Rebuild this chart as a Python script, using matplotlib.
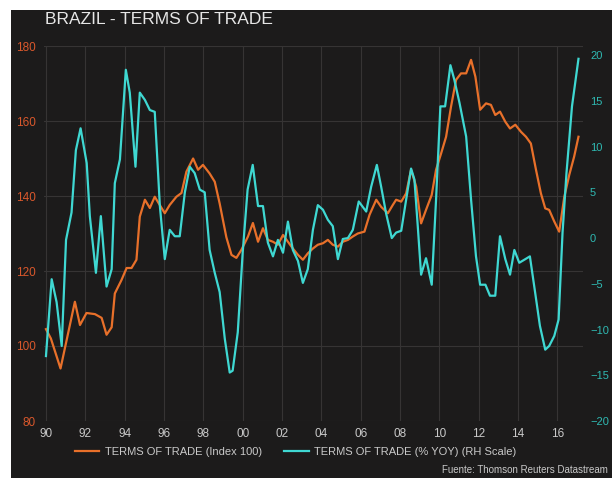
import matplotlib
matplotlib.use("Agg")
import matplotlib.pyplot as plt
from matplotlib.lines import Line2D
from matplotlib.patches import Rectangle

plt.rcParams['font.family'] = ['Liberation Sans', 'DejaVu Sans']

# Terms of trade index (Index 100), decimal years
tot_years = [1990.00, 1990.25, 1990.74, 1991.47, 1991.73, 1992.06, 1992.49, 1992.83,
             1993.08, 1993.34, 1993.50, 1993.84, 1994.10, 1994.35, 1994.60, 1994.77,
             1995.03, 1995.28, 1995.53, 1996.04, 1996.29, 1996.63, 1996.89, 1997.14,
             1997.48, 1997.73, 1997.98, 1998.32, 1998.58, 1998.83, 1999.17, 1999.43,
             1999.68, 1999.93, 2000.27, 2000.52, 2000.78, 2001.03, 2001.28, 2001.54,
             2001.79, 2002.05, 2002.30, 2002.55, 2002.81, 2003.06, 2003.31, 2003.57,
             2003.82, 2004.08, 2004.33, 2004.58, 2004.84, 2005.09, 2005.35, 2005.60,
             2005.85, 2006.19, 2006.45, 2006.79, 2007.04, 2007.38, 2007.63, 2007.80,
             2008.06, 2008.31, 2008.56, 2008.82, 2009.07, 2009.32, 2009.61, 2009.83,
             2010.09, 2010.34, 2010.59, 2010.85, 2011.10, 2011.36, 2011.61, 2011.83,
             2012.07, 2012.37, 2012.62, 2012.84, 2013.08, 2013.35, 2013.59, 2013.86,
             2014.15, 2014.40, 2014.65, 2014.91, 2015.16, 2015.38, 2015.58, 2015.84,
             2016.09, 2016.35, 2016.60, 2016.85, 2017.07]
tot_index = [104.5, 102.0, 94.0, 111.8, 105.6, 108.8, 108.5, 107.5,
             103.0, 105.0, 114.0, 117.6, 120.8, 120.8, 123.0, 134.5,
             139.0, 136.8, 139.8, 135.4, 137.6, 139.8, 140.8, 146.5,
             150.0, 147.0, 148.3, 146.0, 143.8, 138.0, 129.0, 124.3,
             123.5, 125.6, 129.2, 132.8, 127.8, 131.4, 128.3, 127.8,
             127.0, 129.6, 127.8, 126.0, 124.3, 123.0, 124.7, 126.0,
             127.0, 127.4, 128.3, 127.0, 126.5, 127.8, 128.3, 129.2,
             130.0, 130.5, 135.0, 139.0, 137.1, 135.4, 137.6, 139.0,
             138.5, 140.7, 147.0, 142.5, 132.7, 136.3, 140.3, 147.0,
             151.4, 155.8, 163.8, 171.0, 172.7, 172.7, 176.3, 171.8,
             163.0, 164.7, 164.3, 161.6, 162.5, 159.8, 158.0, 159.0,
             157.1, 155.8, 154.0, 147.0, 140.7, 136.7, 136.3, 133.2,
             130.5, 139.8, 145.6, 150.5, 155.8]

# Terms of trade, % year on year (right-hand scale)
yoy_years = [1990.00, 1990.29, 1990.54, 1990.80, 1991.02, 1991.30, 1991.52, 1991.76,
             1992.07, 1992.23, 1992.54, 1992.79, 1993.08, 1993.34, 1993.50, 1993.76,
             1994.06, 1994.26, 1994.55, 1994.77, 1995.03, 1995.28, 1995.53, 1995.79,
             1996.04, 1996.29, 1996.55, 1996.80, 1997.06, 1997.31, 1997.56, 1997.82,
             1998.07, 1998.32, 1998.58, 1998.83, 1999.09, 1999.34, 1999.49, 1999.75,
             2000.00, 2000.25, 2000.51, 2000.78, 2001.03, 2001.28, 2001.54, 2001.79,
             2002.05, 2002.30, 2002.55, 2002.81, 2003.06, 2003.31, 2003.57, 2003.82,
             2004.08, 2004.33, 2004.58, 2004.84, 2005.09, 2005.35, 2005.60, 2005.90,
             2006.28, 2006.53, 2006.82, 2007.04, 2007.29, 2007.58, 2007.80, 2008.06,
             2008.31, 2008.56, 2008.73, 2008.90, 2009.07, 2009.32, 2009.61, 2009.83,
             2010.05, 2010.29, 2010.56, 2010.76, 2011.02, 2011.36, 2011.61, 2011.86,
             2012.07, 2012.34, 2012.57, 2012.84, 2013.08, 2013.35, 2013.59, 2013.81,
             2014.06, 2014.37, 2014.60, 2014.87, 2015.11, 2015.38, 2015.58, 2015.84,
             2016.06, 2016.26, 2016.46, 2016.74, 2017.07]
yoy_pct = [-12.9, -4.5, -7.0, -11.8, -0.2, 2.8, 9.6, 12.0,
           8.2, 2.4, -3.8, 2.4, -5.3, -3.4, 6.0, 8.6,
           18.4, 15.9, 7.8, 15.9, 15.1, 14.0, 13.8, 3.5,
           -2.3, 0.9, 0.2, 0.2, 5.0, 7.8, 7.1, 5.3,
           5.0, -1.3, -3.8, -5.9, -11.0, -14.7, -14.5, -10.3,
           -1.6, 5.3, 8.0, 3.5, 3.5, -0.5, -2.0, -0.2,
           -1.6, 1.8, -1.3, -2.5, -4.9, -3.4, 0.9, 3.6,
           3.1, 2.0, 1.3, -2.3, -0.1, 0.0, 0.9, 4.0,
           2.9, 5.6, 8.0, 5.6, 2.7, 0.0, 0.6, 0.8,
           4.2, 7.6, 6.4, 1.3, -4.0, -2.2, -5.1, 4.2,
           14.4, 14.4, 18.9, 17.3, 14.8, 11.1, 4.2, -2.0,
           -5.1, -5.1, -6.3, -6.3, 0.2, -2.3, -4.0, -1.3,
           -2.7, -2.3, -2.0, -6.0, -9.6, -12.2, -11.8, -10.7,
           -8.9, 0.6, 7.1, 14.4, 19.6]

x_ticks = list(range(1990, 2018, 2))
x_labels = ["90", "92", "94", "96", "98", "00", "02", "04", "06", "08", "10", "12", "14", "16"]
left_ticks = [80, 100, 120, 140, 160, 180]
right_ticks = [-20, -15, -10, -5, 0, 5, 10, 15, 20]

BG = "#1c1b1b"
ORANGE = "#e8702a"
CYAN = "#3fd8d2"
LEFT_TXT = "#d9582c"
RIGHT_TXT = "#2fb9b2"
GRID = "#363434"
TXT = "#c9c9c9"

fig = plt.figure(figsize=(6.16, 4.78), dpi=100)
fig.patch.set_facecolor("white")
panel = Rectangle((11 / 616, 0), 601 / 616, 1 - 10 / 478,
                  transform=fig.transFigure, facecolor=BG,
                  edgecolor="none", zorder=-10)
fig.add_artist(panel)

ax = fig.add_axes([44 / 616, 1 - 421 / 478, 539 / 616, 375 / 478], zorder=1)
ax.set_facecolor(BG)
ax.plot(tot_years, tot_index, color=ORANGE, lw=1.6, solid_joinstyle="round")
ax.set_xlim(1989.9, 2017.3)
ax.set_ylim(80, 180)
ax.set_xticks(x_ticks)
ax.set_xticklabels(x_labels)
ax.set_yticks(left_ticks)
ax.grid(True, color=GRID, lw=0.8)
ax.set_axisbelow(True)
for s in ax.spines.values():
    s.set_visible(False)
ax.tick_params(axis="x", length=0, pad=5, labelsize=8.5, colors=TXT)
ax.tick_params(axis="y", length=0, pad=6, labelsize=8.5, labelcolor=LEFT_TXT)

ax2 = ax.twinx()
ax2.plot(yoy_years, yoy_pct, color=CYAN, lw=1.6, solid_joinstyle="round")
ax2.set_ylim(-20, 21)
ax2.set_yticks(right_ticks)
for s in ax2.spines.values():
    s.set_visible(False)
ax2.tick_params(axis="y", length=0, pad=5, labelsize=8, labelcolor=RIGHT_TXT)

fig.text(45 / 616, 1 - 20 / 478, "BRAZIL - TERMS OF TRADE", color="#e6e6e6",
         fontsize=12.5, va="center", ha="left")

handles = [Line2D([], [], color=ORANGE, lw=1.6),
           Line2D([], [], color=CYAN, lw=1.6)]
labels = ["TERMS OF TRADE (Index 100)", "TERMS OF TRADE (% YOY) (RH Scale)"]
leg = fig.legend(handles, labels, loc="center", bbox_to_anchor=(0.48, 1 - 452 / 478),
                 ncol=2, frameon=False, fontsize=8, handlelength=2.2,
                 columnspacing=2.0, handletextpad=0.5)
for t in leg.get_texts():
    t.set_color(TXT)

fig.text(608 / 616, 1 - 470 / 478, "Fuente: Thomson Reuters Datastream",
         color=TXT, fontsize=7, ha="right", va="center")

fig.savefig("out.png", dpi=100, facecolor=fig.get_facecolor())
